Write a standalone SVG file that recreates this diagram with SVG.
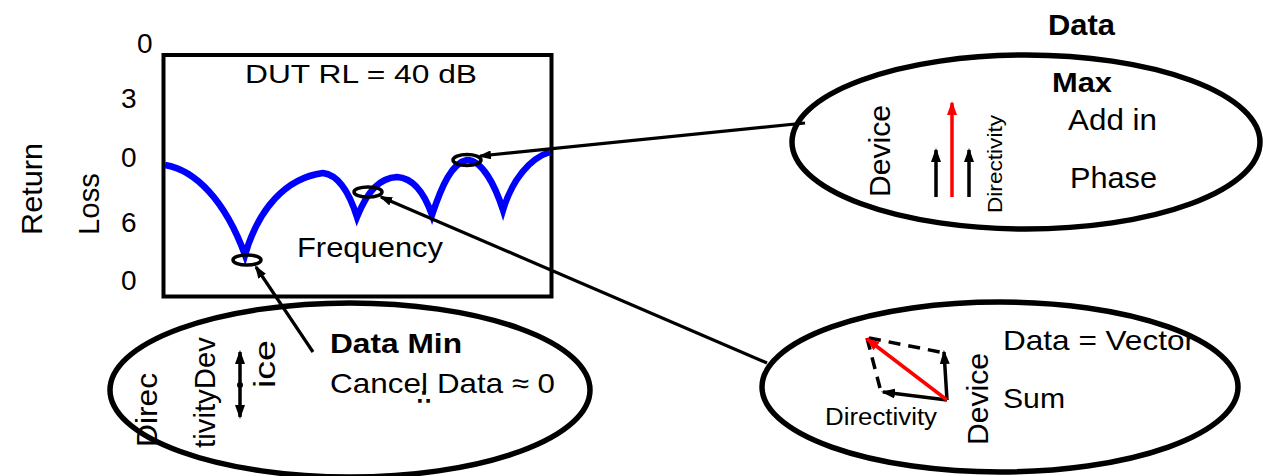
<svg xmlns="http://www.w3.org/2000/svg" width="1263" height="476" viewBox="0 0 1263 476">
<style>
text{font-family:"Liberation Sans",Arial,sans-serif;fill:#000}
.b{font-weight:bold}
.ax{font-size:28px}
.rot{font-size:30px}
.oval{fill:none;stroke:#000;stroke-width:5.5}
.conn{fill:none;stroke:#000;stroke-width:3.2}
.vec{fill:none;stroke:#000;stroke-width:3.5}
.red{stroke:#f00}
.dash{fill:none;stroke:#000;stroke-width:3.5;stroke-dasharray:12 8}
.mark{fill:none;stroke:#000;stroke-width:3.5}
</style>
<defs>
<marker id="ah" markerUnits="userSpaceOnUse" markerWidth="13" markerHeight="9" refX="11" refY="4.5" orient="auto"><path d="M0,0 L13,4.5 L0,9 z" fill="#000"/></marker>
<marker id="vh" markerUnits="userSpaceOnUse" markerWidth="14" markerHeight="10" refX="12" refY="5" orient="auto-start-reverse"><path d="M0,0 L14,5 L0,10 z" fill="#000"/></marker>
<marker id="vr" markerUnits="userSpaceOnUse" markerWidth="14" markerHeight="10" refX="12" refY="5" orient="auto"><path d="M0,0 L14,5 L0,10 z" fill="#f00"/></marker>
</defs>

<g id="chart">
<rect x="163.5" y="55" width="388" height="241.5" fill="none" stroke="#000" stroke-width="4"/>
<text class="ax" x="137" y="53">0</text>
<text class="ax" x="121" y="108">3</text>
<text class="ax" x="121" y="167">0</text>
<text class="ax" x="121" y="232">6</text>
<text class="ax" x="121" y="290">0</text>
<text class="rot" transform="translate(42,235) rotate(-90)" textLength="92" lengthAdjust="spacingAndGlyphs">Return</text>
<text class="rot" transform="translate(99,235) rotate(-90)" textLength="62" lengthAdjust="spacingAndGlyphs">Loss</text>
<text x="245" y="83" font-size="26" textLength="232" lengthAdjust="spacingAndGlyphs">DUT RL = 40 dB</text>
<text x="297" y="257" font-size="27" textLength="146" lengthAdjust="spacingAndGlyphs">Frequency</text>
<path d="M165,165 C195,170 225,200 245,255 C258,210 285,178 323,173 C340,175 350,195 357,217 C368,190 380,178 397,177 C415,178 425,195 432,215 C442,185 452,163 467,160 C482,160 495,185 503,210 C512,180 530,158 550,152" fill="none" stroke="#00f" stroke-width="6.5"/>
<ellipse class="mark" cx="247" cy="260" rx="14" ry="5"/>
<ellipse class="mark" cx="368" cy="192" rx="14" ry="5"/>
<ellipse class="mark" cx="467" cy="160" rx="14" ry="5.5"/>
</g>

<g id="max-node">
<text class="b" x="1048" y="35" font-size="30" textLength="67" lengthAdjust="spacingAndGlyphs">Data</text>
<text class="b" x="1052" y="92" font-size="28" textLength="60" lengthAdjust="spacingAndGlyphs">Max</text>
<text class="rot" transform="translate(890,197) rotate(-90)" textLength="92" lengthAdjust="spacingAndGlyphs">Device</text>
<text transform="translate(1002,213) rotate(-90)" font-size="21" textLength="98" lengthAdjust="spacingAndGlyphs">Directivity</text>
<text x="1068" y="130" font-size="30" textLength="89" lengthAdjust="spacingAndGlyphs">Add in</text>
<text x="1070" y="188" font-size="29" textLength="87" lengthAdjust="spacingAndGlyphs">Phase</text>
<line class="vec" x1="936" y1="197" x2="936" y2="150" marker-end="url(#vh)"/>
<line class="vec red" x1="952" y1="197" x2="952" y2="103" marker-end="url(#vr)"/>
<line class="vec" x1="969" y1="197" x2="969" y2="150" marker-end="url(#vh)"/>
<ellipse class="oval" cx="1026" cy="142" rx="234" ry="87"/>
</g>

<g id="min-node">
<text class="b" x="330" y="353" font-size="28" textLength="132" lengthAdjust="spacingAndGlyphs">Data Min</text>
<text x="330" y="393" font-size="28" textLength="98" lengthAdjust="spacingAndGlyphs">Cancel</text>
<text x="417" y="404" font-size="20" style="font-family:'DejaVu Sans',sans-serif;font-weight:bold">∴</text>
<text x="437" y="393" font-size="28" textLength="118" lengthAdjust="spacingAndGlyphs">Data ≈ 0</text>
<text class="rot" transform="translate(157,447) rotate(-90)" textLength="74" lengthAdjust="spacingAndGlyphs">Direc</text>
<text class="rot" transform="translate(215,448) rotate(-90)" textLength="111" lengthAdjust="spacingAndGlyphs">tivityDev</text>
<text class="rot" transform="translate(275,388) rotate(-90)" textLength="48" lengthAdjust="spacingAndGlyphs">ice</text>
<line class="vec" x1="240" y1="352" x2="240" y2="417" marker-start="url(#vh)" marker-end="url(#vh)"/>
<circle cx="240" cy="385" r="3" fill="#000"/>
<ellipse class="oval" cx="350" cy="390" rx="240" ry="87"/>
</g>

<g id="vector-node">
<text x="1003" y="350" font-size="28" textLength="192" lengthAdjust="spacingAndGlyphs">Data = Vector</text>
<text x="1003" y="408" font-size="28" textLength="62" lengthAdjust="spacingAndGlyphs">Sum</text>
<text x="825" y="425" font-size="23" textLength="112" lengthAdjust="spacingAndGlyphs">Directivity</text>
<text class="rot" transform="translate(988,445) rotate(-90)" textLength="92" lengthAdjust="spacingAndGlyphs">Device</text>
<line class="dash" x1="869" y1="338" x2="945" y2="353"/>
<line class="dash" x1="867" y1="338" x2="880" y2="388"/>
<line class="vec" x1="947" y1="400" x2="944" y2="352" marker-end="url(#vh)"/>
<line class="vec" x1="947" y1="400" x2="883" y2="392" marker-end="url(#vh)"/>
<line class="vec red" x1="947" y1="400" x2="867" y2="339" marker-end="url(#vr)"/>
<ellipse class="oval" cx="1000" cy="387" rx="238" ry="85"/>
</g>

<g id="connectors">
<line class="conn" x1="805" y1="123" x2="480" y2="156" marker-end="url(#ah)"/>
<line class="conn" x1="767" y1="363" x2="381" y2="197" marker-end="url(#ah)"/>
<line class="conn" x1="313" y1="352" x2="256" y2="267" marker-end="url(#ah)"/>
</g>
</svg>
